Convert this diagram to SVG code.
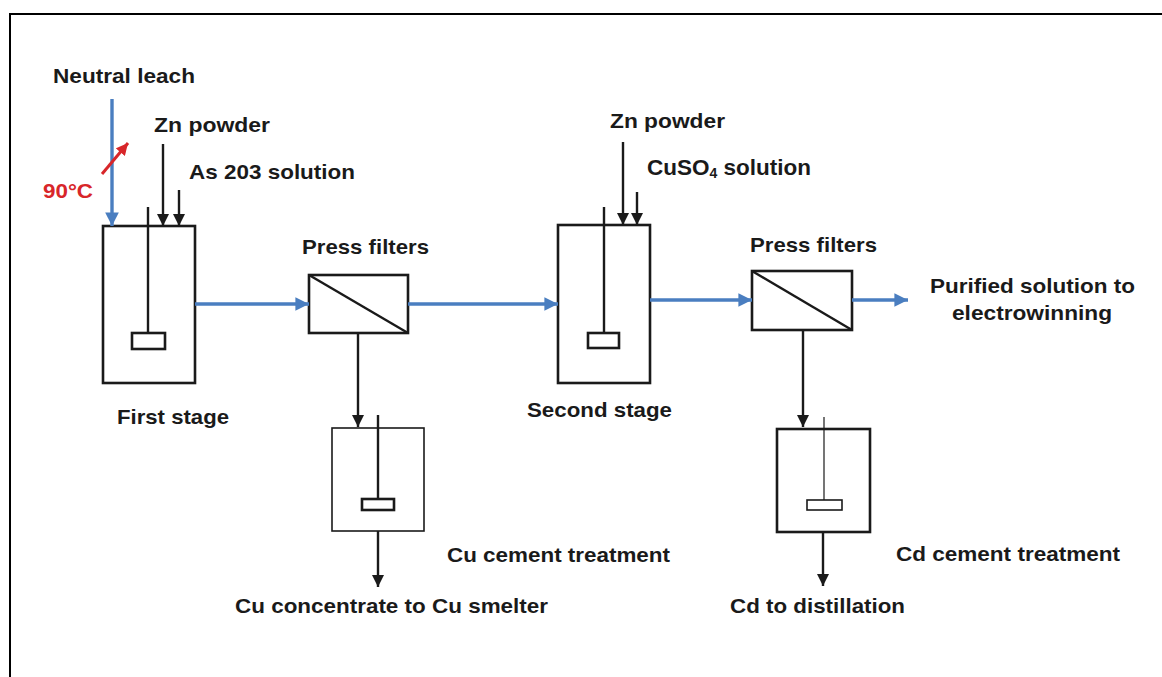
<svg xmlns="http://www.w3.org/2000/svg" width="1162" height="677" viewBox="0 0 1162 677">
<style>
text{font-family:"Liberation Sans",Arial,sans-serif;font-weight:bold;font-size:21px;fill:#1a1a1a}
.red{fill:#d8262a}
.box{fill:none;stroke:#1a1a1a;stroke-width:2.6}
.thin{fill:none;stroke:#1a1a1a;stroke-width:1.6}
.blk{fill:none;stroke:#1a1a1a;stroke-width:2.4}
.blu{fill:none;stroke:#4a7ec0;stroke-width:3.4}
.rdl{fill:none;stroke:#d8262a;stroke-width:3}
</style>
<defs>
<marker id="ab" viewBox="0 0 10 10" refX="10" refY="5" markerWidth="5" markerHeight="5" orient="auto" markerUnits="strokeWidth"><path d="M0,0 L10,5 L0,10 z" fill="#1a1a1a"/></marker>
<marker id="au" viewBox="0 0 10 10" refX="10" refY="5" markerWidth="4" markerHeight="4" orient="auto" markerUnits="strokeWidth"><path d="M0,0 L10,5 L0,10 z" fill="#4a7ec0"/></marker>
<marker id="ar" viewBox="0 0 10 10" refX="10" refY="5" markerWidth="4" markerHeight="4" orient="auto" markerUnits="strokeWidth"><path d="M0,0 L10,5 L0,10 z" fill="#d8262a"/></marker>
</defs>
<rect width="1162" height="677" fill="#fff"/>
<path d="M10,677 L10,14 L1162,14" fill="none" stroke="#000" stroke-width="2"/>

<g id="stage1">
<rect class="box" x="103" y="226" width="92" height="157"/>
<line class="blk" x1="148" y1="207" x2="148" y2="333"/>
<rect class="box" x="132" y="333" width="33" height="16"/>
<text x="117" y="424" textLength="112" lengthAdjust="spacingAndGlyphs">First stage</text>
</g>

<g id="filter1">
<rect class="box" x="309" y="275" width="99" height="58"/>
<line class="blk" x1="309" y1="275" x2="408" y2="333"/>
<text x="302" y="254" textLength="127" lengthAdjust="spacingAndGlyphs">Press filters</text>
</g>

<g id="cu-tank">
<rect class="thin" x="332" y="428" width="92" height="103"/>
<line class="blk" x1="378" y1="415" x2="378" y2="499"/>
<rect class="box" x="362" y="499" width="32" height="11"/>
<text x="447" y="562" textLength="223" lengthAdjust="spacingAndGlyphs">Cu cement treatment</text>
</g>

<g id="stage2">
<rect class="box" x="558" y="225" width="92" height="158"/>
<line class="blk" x1="604" y1="207" x2="604" y2="333"/>
<rect class="box" x="588" y="333" width="31" height="15"/>
<text x="527" y="417" textLength="145" lengthAdjust="spacingAndGlyphs">Second stage</text>
</g>

<g id="filter2">
<rect class="box" x="752" y="271" width="100" height="59"/>
<line class="blk" x1="752" y1="271" x2="852" y2="330"/>
<text x="750" y="252" textLength="127" lengthAdjust="spacingAndGlyphs">Press filters</text>
</g>

<g id="cd-tank">
<rect class="box" x="777" y="429" width="93" height="103"/>
<line x1="824" y1="417" x2="824" y2="500" stroke="#1a1a1a" stroke-width="1.2"/>
<rect class="thin" x="807" y="500" width="35" height="10"/>
<text x="896" y="561" textLength="224" lengthAdjust="spacingAndGlyphs">Cd cement treatment</text>
</g>

<g id="labels">
<text x="53" y="83" textLength="142" lengthAdjust="spacingAndGlyphs">Neutral leach</text>
<text x="154" y="132" textLength="116" lengthAdjust="spacingAndGlyphs">Zn powder</text>
<text x="189" y="179" textLength="166" lengthAdjust="spacingAndGlyphs">As 203 solution</text>
<text class="red" x="43" y="198" textLength="50" lengthAdjust="spacingAndGlyphs">90°C</text>
<text x="610" y="128" textLength="115" lengthAdjust="spacingAndGlyphs">Zn powder</text>
<text x="647" y="175" style="font-size:22.5px">CuSO<tspan style="font-size:14px" dy="3">4</tspan><tspan dy="-3"> solution</tspan></text>
<text x="930" y="293" textLength="205" lengthAdjust="spacingAndGlyphs">Purified solution to</text>
<text x="952" y="320" textLength="160" lengthAdjust="spacingAndGlyphs">electrowinning</text>
<text x="235" y="613" textLength="313" lengthAdjust="spacingAndGlyphs">Cu concentrate to Cu smelter</text>
<text x="730" y="613" textLength="175" lengthAdjust="spacingAndGlyphs">Cd to distillation</text>
</g>

<g id="connectors">
<line class="blu" x1="112" y1="99" x2="112" y2="226" marker-end="url(#au)"/>
<line class="rdl" x1="102" y1="174" x2="128" y2="143" marker-end="url(#ar)"/>
<line class="blk" x1="163" y1="144" x2="163" y2="226" marker-end="url(#ab)"/>
<line class="blk" x1="179" y1="190" x2="179" y2="226" marker-end="url(#ab)"/>
<line class="blu" x1="195" y1="304" x2="309" y2="304" marker-end="url(#au)"/>
<line class="blk" x1="358" y1="333" x2="358" y2="427" marker-end="url(#ab)"/>
<line class="blk" x1="378" y1="531" x2="378" y2="587" marker-end="url(#ab)"/>
<line class="blu" x1="408" y1="304" x2="558" y2="304" marker-end="url(#au)"/>
<line class="blk" x1="623" y1="142" x2="623" y2="225" marker-end="url(#ab)"/>
<line class="blk" x1="637" y1="192" x2="637" y2="225" marker-end="url(#ab)"/>
<line class="blu" x1="650" y1="300" x2="752" y2="300" marker-end="url(#au)"/>
<line class="blu" x1="852" y1="300" x2="908" y2="300" marker-end="url(#au)"/>
<line class="blk" x1="803" y1="330" x2="803" y2="427" marker-end="url(#ab)"/>
<line class="blk" x1="823" y1="532" x2="823" y2="586" marker-end="url(#ab)"/>
</g>
</svg>
